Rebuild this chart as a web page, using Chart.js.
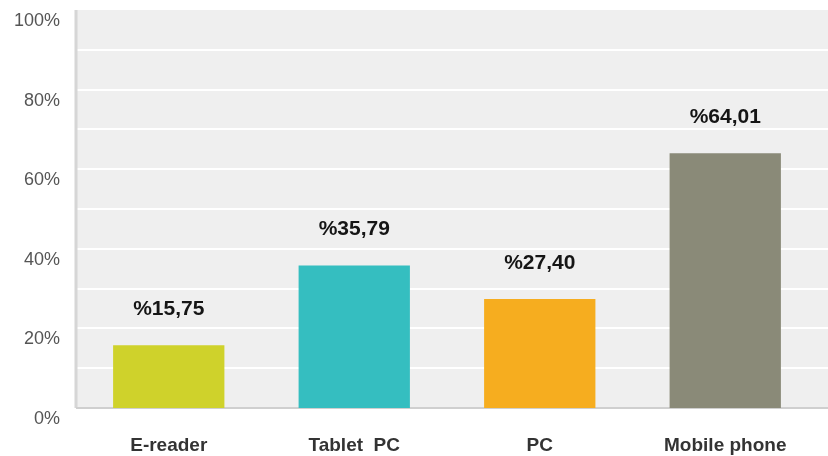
<!DOCTYPE html>
<html>
<head>
<meta charset="utf-8">
<script src="https://cdn.jsdelivr.net/npm/chart.js@4"></script>
<style>
  html, body { margin: 0; padding: 0; background: #fff; }
  #wrap { width: 828px; height: 456px; }
</style>
</head>
<body>
<div id="wrap"><canvas id="devices"></canvas></div>
<script>
const devices = ['E-reader', 'Tablet  PC', 'PC', 'Mobile phone'];
const shares = [15.75, 35.79, 27.40, 64.01];
const barColors = ['#cfd22b', '#35bec0', '#f6ad1f', '#8a8a78'];

// plot background, white grid and axis lines, run across to the right edge
const plotBackdrop = {
    id: 'plotBackdrop',
    beforeDatasetsDraw(chart) {
        const ctx = chart.ctx;
        const area = chart.chartArea;
        const y = chart.scales.y;
        const right = chart.width;
        ctx.save();
        ctx.fillStyle = '#efefef';
        ctx.fillRect(area.left, area.top, right - area.left, area.bottom - area.top);
        ctx.strokeStyle = '#ffffff';
        ctx.lineWidth = 2;
        y.ticks.forEach(t => {
            if (t.value === 0 || t.value === 100) return;
            const py = Math.round(y.getPixelForValue(t.value));
            ctx.beginPath();
            ctx.moveTo(area.left, py);
            ctx.lineTo(right, py);
            ctx.stroke();
        });
        ctx.strokeStyle = '#d6d6d6';
        ctx.lineWidth = 3;
        ctx.beginPath();
        ctx.moveTo(area.left, area.top);
        ctx.lineTo(area.left, area.bottom);
        ctx.stroke();
        ctx.strokeStyle = '#cfcfcf';
        ctx.lineWidth = 2;
        ctx.beginPath();
        ctx.moveTo(area.left, area.bottom);
        ctx.lineTo(right, area.bottom);
        ctx.stroke();
        ctx.restore();
    }
};

// percentage written above each bar
const valueLabels = {
    id: 'valueLabels',
    afterDatasetsDraw(chart) {
        const ctx = chart.ctx;
        const meta = chart.getDatasetMeta(0);
        ctx.save();
        ctx.font = 'bold 21px "Liberation Sans", Arial, sans-serif';
        ctx.fillStyle = '#151515';
        ctx.textAlign = 'center';
        ctx.textBaseline = 'middle';
        meta.data.forEach((bar, i) => {
            const txt = '%' + shares[i].toFixed(2).replace('.', ',');
            ctx.fillText(txt, bar.x, bar.y - 36);
        });
        ctx.restore();
    }
};

new Chart(document.getElementById('devices').getContext('2d'), {
    type: 'bar',
    data: {
        labels: devices,
        datasets: [{
            data: shares,
            backgroundColor: barColors,
            borderWidth: 0,
            barPercentage: 0.6,
            categoryPercentage: 1
        }]
    },
    options: {
        responsive: true,
        maintainAspectRatio: false,
        animation: false,
        layout: { padding: { top: 10, right: 10, bottom: 1, left: 0 } },
        scales: {
            x: {
                afterFit(scale) {
                    scale.height = 47;
                    scale.paddingLeft = 0;
                    scale.paddingRight = 0;
                },
                grid: { display: false, drawTicks: false },
                border: { display: false },
                ticks: {
                    color: '#333333',
                    padding: 26,
                    font: { family: '"Liberation Sans", Arial, sans-serif', size: 19, weight: 'bold' }
                }
            },
            y: {
                min: 0,
                max: 100,
                afterFit(scale) {
                    scale.width = 76;
                    scale.paddingTop = 0;
                    scale.paddingBottom = 0;
                },
                grid: { display: false, drawTicks: false },
                border: { display: false },
                ticks: {
                    stepSize: 10,
                    labelOffset: 11,
                    padding: 16,
                    color: '#555555',
                    font: { family: '"Liberation Sans", Arial, sans-serif', size: 18 },
                    callback: v => (v % 20 === 0 ? v + '%' : '')
                }
            }
        },
        plugins: {
            legend: { display: false },
            tooltip: { enabled: false }
        }
    },
    plugins: [plotBackdrop, valueLabels]
});
</script>
</body>
</html>
